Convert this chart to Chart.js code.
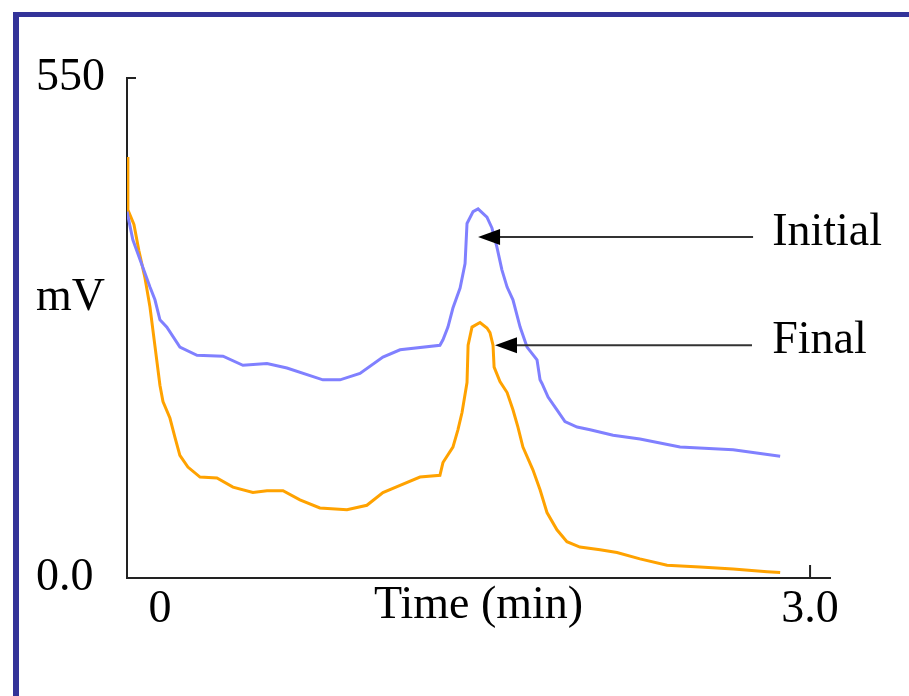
<!DOCTYPE html>
<html>
<head>
<meta charset="utf-8">
<script src="https://cdn.jsdelivr.net/npm/chart.js@4.4.1/dist/chart.umd.min.js"></script>
<style>
    html, body { margin: 0; padding: 0; background: #fff; }
    #wrap { position: relative; width: 909px; height: 696px; }
    #frame {
        position: absolute; left: 13px; top: 12px; right: 0; bottom: 0;
        border-left: 6px solid #333399; border-top: 5px solid #333399;
        pointer-events: none;
    }
</style>
</head>
<body>
<div id="wrap">
    <canvas id="traceChart"></canvas>
    <div id="frame"></div>
</div>
<script>
// Initial trace (time in min, signal in mV)
const initialTime = [-0.152, -0.125, -0.046, -0.023, 0, 0.032, 0.092, 0.171, 0.291, 0.383, 0.494, 0.586, 0.752, 0.831, 0.923, 1.029, 1.108, 1.292, 1.306, 1.329, 1.352, 1.385, 1.408, 1.417, 1.445, 1.468, 1.509, 1.532, 1.555, 1.578, 1.602, 1.629, 1.662, 1.694, 1.740, 1.754, 1.763, 1.791, 1.832, 1.869, 1.925, 1.985, 2.091, 2.215, 2.400, 2.645, 2.862];
const initialMv = [403, 372, 320, 306, 284, 276, 254, 245, 244, 234, 236, 231, 218, 218, 225, 243, 251, 256, 262, 276, 297, 319, 346, 390, 403, 406, 397, 385, 364, 339, 320, 306, 276, 254, 240, 218, 214, 199, 185, 172, 166, 163, 157, 153, 144, 141, 134];

// Final trace
const finalTime = [-0.152, -0.148, -0.120, -0.097, -0.069, -0.046, -0.023, 0, 0.014, 0.046, 0.069, 0.092, 0.129, 0.185, 0.263, 0.337, 0.429, 0.494, 0.568, 0.646, 0.738, 0.863, 0.955, 1.029, 1.108, 1.200, 1.292, 1.306, 1.352, 1.375, 1.394, 1.417, 1.422, 1.440, 1.477, 1.509, 1.523, 1.537, 1.542, 1.569, 1.602, 1.629, 1.652, 1.675, 1.721, 1.754, 1.786, 1.832, 1.878, 1.938, 2.031, 2.109, 2.215, 2.340, 2.492, 2.645, 2.802, 2.862];
const finalMv = [463, 405, 389, 360, 330, 298, 255, 212, 194, 176, 155, 135, 122, 111, 110, 100, 94, 96, 96, 86, 77, 75, 80, 94, 102, 111, 113, 127, 144, 163, 182, 215, 256, 276, 281, 275, 270, 256, 232, 216, 204, 185, 166, 144, 119, 97, 72, 53, 40, 34, 31, 28, 21, 14, 12, 10, 7, 6];

// axis ticks
const xTickValues = [0, 3];
const xTickLabels = ['0', '3.0'];
const yTickValues = [0, 550];
const yTickLabels = ['0.0', '550'];

// arrow labels: where the arrow tip sits, where its tail ends, where the text starts
const arrowLabels = ['Initial', 'Final'];
const arrowTipTime = [1.468, 1.546];
const arrowTipMv = [375, 256];
const arrowTailTime = [2.737, 2.732];
const arrowTextTime = [2.825, 2.825];

const serif = "'Liberation Serif', 'Times New Roman', serif";
const fontSize = 46;

function toPoints(xs, ys) {
    return xs.map((x, i) => ({x: x, y: ys[i]}));
}

const annotationPlugin = {
    id: 'traceNotes',
    afterDraw(chart) {
        const ctx = chart.ctx;
        const xs = chart.scales.x;
        const ys = chart.scales.y;
        ctx.save();

        // inward tick marks at 550 and 3.0
        ctx.strokeStyle = '#222';
        ctx.lineWidth = 2;
        ctx.beginPath();
        let yTop = ys.getPixelForValue(550);
        ctx.moveTo(xs.left, yTop);
        ctx.lineTo(xs.left + 9, yTop);
        let x3 = xs.getPixelForValue(3);
        ctx.moveTo(x3, ys.bottom);
        ctx.lineTo(x3, ys.bottom - 13);
        ctx.stroke();

        // "mV" unit label on the y axis
        ctx.fillStyle = '#000';
        ctx.font = fontSize + 'px ' + serif;
        ctx.textAlign = 'left';
        ctx.textBaseline = 'middle';
        ctx.fillText('mV', ys.left, ys.getPixelForValue(308));

        // arrows with labels
        for (let i = 0; i < arrowLabels.length; i++) {
            let tipX = xs.getPixelForValue(arrowTipTime[i]);
            let tipY = ys.getPixelForValue(arrowTipMv[i]);
            let tailX = xs.getPixelForValue(arrowTailTime[i]);
            ctx.strokeStyle = '#333';
            ctx.lineWidth = 2;
            ctx.beginPath();
            ctx.moveTo(tipX + 20, tipY);
            ctx.lineTo(tailX, tipY);
            ctx.stroke();
            ctx.fillStyle = '#000';
            ctx.beginPath();
            ctx.moveTo(tipX, tipY);
            ctx.lineTo(tipX + 22, tipY - 8);
            ctx.lineTo(tipX + 22, tipY + 8);
            ctx.closePath();
            ctx.fill();
            ctx.fillText(arrowLabels[i], xs.getPixelForValue(arrowTextTime[i]), tipY - 4);
        }
        ctx.restore();
    }
};

document.addEventListener('DOMContentLoaded', function () {
    let ctx = document.getElementById('traceChart').getContext('2d');

    let chart = new Chart(ctx, {
        type: 'line',
        data: {
            datasets: [{
                label: 'Initial',
                data: toPoints(initialTime, initialMv),
                borderColor: '#8080ff',
                borderWidth: 3,
                pointRadius: 0,
                tension: 0
            }, {
                label: 'Final',
                data: toPoints(finalTime, finalMv),
                borderColor: '#ffa200',
                borderWidth: 3,
                pointRadius: 0,
                tension: 0
            }]
        },
        options: {
            responsive: true,
            maintainAspectRatio: false,
            animation: false,
            layout: {padding: {left: 36, top: 78, right: 79, bottom: 62}},
            plugins: {legend: {display: false}, tooltip: {enabled: false}},
            scales: {
                x: {
                    type: 'linear',
                    min: -0.152,
                    max: 3.092,
                    grid: {display: false, drawTicks: false},
                    border: {display: true, color: '#222', width: 2},
                    afterBuildTicks: scale => { scale.ticks = xTickValues.map(v => ({value: v})); },
                    afterFit: scale => { scale.height = 56; },
                    ticks: {
                        autoSkip: false,
                        maxRotation: 0,
                        padding: 4,
                        color: '#000',
                        font: {family: serif, size: fontSize},
                        callback: (v, i) => xTickLabels[i]
                    },
                    title: {
                        display: true,
                        text: 'Time (min)',
                        color: '#000',
                        padding: 0,
                        font: {family: serif, size: fontSize}
                    }
                },
                y: {
                    min: 0,
                    max: 550,
                    grid: {display: false, drawTicks: false},
                    border: {display: true, color: '#222', width: 2},
                    afterBuildTicks: scale => { scale.ticks = yTickValues.map(v => ({value: v})); },
                    afterFit: scale => { scale.width = 91; },
                    ticks: {
                        crossAlign: 'far',
                        color: '#000',
                        font: {family: serif, size: fontSize},
                        callback: (v, i) => yTickLabels[i]
                    }
                }
            }
        },
        plugins: [annotationPlugin]
    });
});
</script>
</body>
</html>
